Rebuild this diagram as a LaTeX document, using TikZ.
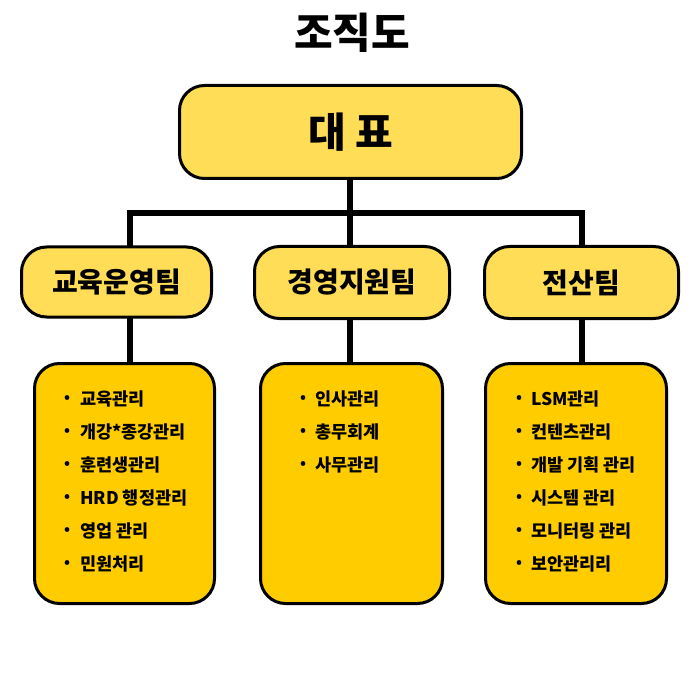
\documentclass[tikz,border=0pt]{standalone}
\usepackage{fontspec}
\setmainfont{Noto Sans CJK KR}
\definecolor{lightyel}{HTML}{FFDD57}
\definecolor{darkyel}{HTML}{FFCC00}
\begin{document}
\begin{tikzpicture}[x=1pt,y=-1pt,
  box/.style={draw=black, line width=3pt, rounded corners=25pt, inner sep=0pt, outer sep=0pt, font=\bfseries},
  headbox/.style={box, fill=lightyel},
  listbox/.style={box, fill=darkyel},
  conn/.style={draw=black, line width=6pt, line join=miter},
  itemtxt/.style={anchor=west, inner sep=0pt, font=\fontsize{17.5}{20}\selectfont\bfseries},
  itemdot/.style={inner sep=0pt, font=\fontsize{15}{16}\selectfont\bfseries}
]
\useasboundingbox (0,0) rectangle (700,700);
\fill[white] (0,0) rectangle (700,700);

\node[font=\fontsize{42}{46}\selectfont\bfseries, inner sep=0pt] (title) at (352,33) {조직도};

\node[headbox, minimum width=342, minimum height=93, font=\fontsize{41}{44}\selectfont\bfseries] (ceo) at (350.5,132) {대 표};

\node[headbox, minimum width=190, minimum height=70, font=\fontsize{28}{31}\selectfont\bfseries] (t1) at (116.5,282) {교육운영팀};
\node[headbox, minimum width=195, minimum height=72, font=\fontsize{28}{31}\selectfont\bfseries] (t2) at (352,282.5) {경영지원팀};
\node[headbox, minimum width=194, minimum height=72, font=\fontsize{28}{31}\selectfont\bfseries] (t3) at (581.5,282.5) {전산팀};

\node[listbox, minimum width=180, minimum height=240] (d1) at (124.5,483.5) {};
\node[listbox, minimum width=182, minimum height=240] (d2) at (351.5,483.5) {};
\node[listbox, minimum width=181, minimum height=240] (d3) at (576,483.5) {};

\coordinate (bus) at (350,213);
\coordinate (j1) at (130,213);
\coordinate (j3) at (582,213);

\draw[conn] (ceo.south -| bus) -- (t2.north -| bus);
\draw[conn] (t1.north -| j1) -- (j1) -- (j3) -- (t3.north -| j3);
\draw[conn] (t1.south -| j1) -- (d1.north -| j1);
\draw[conn] (t2.south -| bus) -- (d2.north -| bus);
\draw[conn] (t3.south -| j3) -- (d3.north -| j3);

\foreach \t [count=\i] in {교육관리, 개강*종강관리, 훈련생관리, HRD 행정관리, 영업 관리, 민원처리}{
  \node[itemdot] (ad\i) at (67,366+33*\i) {•};
  \node[itemtxt] (a\i) at (80,366+33*\i) {\t};
}
\foreach \t [count=\i] in {인사관리, 총무회계, 사무관리}{
  \node[itemdot] (bd\i) at (303,366+33*\i) {•};
  \node[itemtxt] (b\i) at (315,366+33*\i) {\t};
}
\foreach \t [count=\i] in {LSM관리, 컨텐츠관리, 개발 기획 관리, 시스템 관리, 모니터링 관리, 보안관리리}{
  \node[itemdot] (cd\i) at (519,366+33*\i) {•};
  \node[itemtxt] (c\i) at (531,366+33*\i) {\t};
}
\end{tikzpicture}
\end{document}
